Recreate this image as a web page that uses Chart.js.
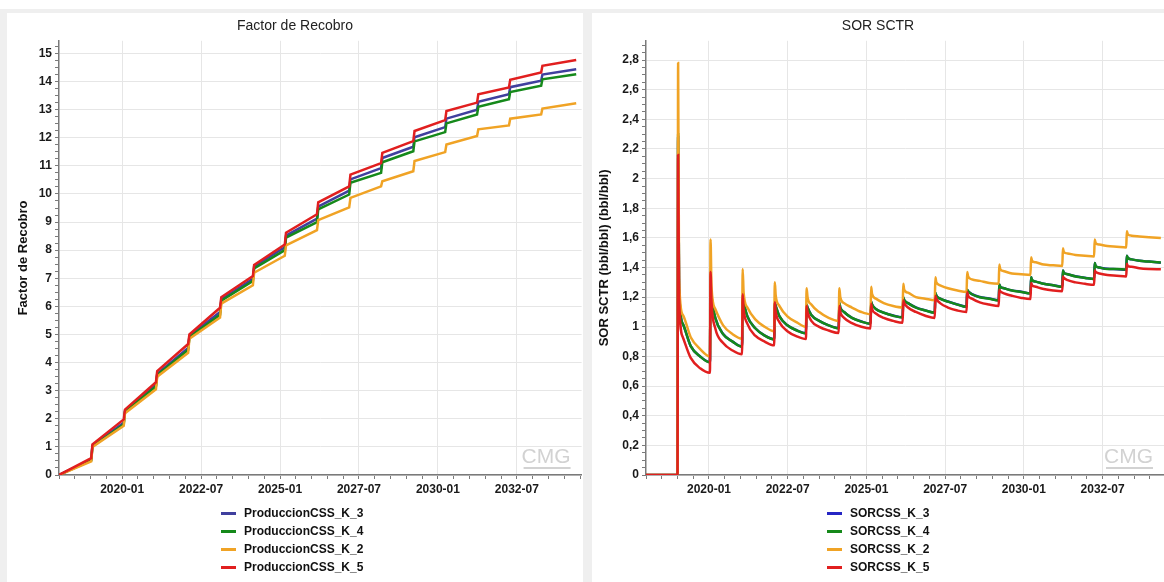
<!DOCTYPE html>
<html lang="es">
<head>
  <meta charset="UTF-8" />
  <title>Factor de Recobro / SOR SCTR</title>
  <script src="https://cdn.jsdelivr.net/npm/chart.js"></script>
  <style>
    body {
      margin: 0;
      width: 1164px;
      height: 582px;
      overflow: hidden;
      background: #fff;
      position: relative;
      font-family: "Liberation Sans", Arial, sans-serif;
    }
    .frame {
      position: absolute;
      left: 0; top: 9px;
      width: 1164px; height: 573px;
      background: #efefef;
    }
    .panel {
      position: absolute;
      top: 13px;
      height: 569px;
      background: #fff;
    }
    #panelLeft { left: 7px; width: 576px; }
    #panelRight { left: 592px; width: 572px; }
    .panel canvas { position: absolute; left: 0; top: 0; }
    .legend {
      position: absolute;
      top: 491px;
    }
    #legendLeft { left: 214px; }
    #legendRight { left: 235px; }
    .legend-item {
      height: 18px;
      line-height: 18px;
      font-size: 12px;
      font-weight: bold;
      color: #111;
      white-space: nowrap;
    }
    .swatch {
      display: inline-block;
      width: 15px;
      height: 3px;
      margin-right: 8px;
      vertical-align: middle;
    }
  </style>
</head>
<body>
  <div class="frame"></div>
  <div class="panel" id="panelLeft">
    <canvas id="frChart" width="576" height="569"></canvas>
    <div class="legend" id="legendLeft"></div>
  </div>
  <div class="panel" id="panelRight">
    <canvas id="sorChart" width="572" height="569"></canvas>
    <div class="legend" id="legendRight"></div>
  </div>

  <script>
    // eje x en años decimales (2020.5 = 2020-07)
    const xMajorTicks = [2020, 2022.5, 2025, 2027.5, 2030, 2032.5];
    const xTickLabels = ['2020-01', '2022-07', '2025-01', '2027-07', '2030-01', '2032-07'];

    const frYTicks = [0, 1, 2, 3, 4, 5, 6, 7, 8, 9, 10, 11, 12, 13, 14, 15];
    const frYLabels = ['0', '1', '2', '3', '4', '5', '6', '7', '8', '9', '10', '11', '12', '13', '14', '15'];
    const sorYTicks = [0, 0.2, 0.4, 0.6, 0.8, 1, 1.2, 1.4, 1.6, 1.8, 2, 2.2, 2.4, 2.6, 2.8];
    const sorYLabels = ['0', '0,2', '0,4', '0,6', '0,8', '1', '1,2', '1,4', '1,6', '1,8', '2', '2,2', '2,4', '2,6', '2,8'];

    const frNames = ['ProduccionCSS_K_3', 'ProduccionCSS_K_4', 'ProduccionCSS_K_2', 'ProduccionCSS_K_5'];
    const sorNames = ['SORCSS_K_3', 'SORCSS_K_4', 'SORCSS_K_2', 'SORCSS_K_5'];

    // Factor de Recobro: antes / después de cada ciclo
    const frDates = [2018.00,
      2019.02, 2019.06, 2020.05, 2020.09, 2021.07, 2021.11, 2022.09, 2022.13,
      2023.10, 2023.14, 2024.14, 2024.18, 2025.15, 2025.19, 2026.17, 2026.21,
      2027.19, 2027.23, 2028.20, 2028.24, 2029.22, 2029.26, 2030.23, 2030.27,
      2031.24, 2031.28, 2032.25, 2032.29, 2033.27, 2033.31,
      2034.38];
    const frK3 = [0,
      0.55, 1.05, 1.86, 2.28, 3.20, 3.60, 4.52, 4.95,
      5.80, 6.25, 6.98, 7.42, 8.10, 8.52, 9.12, 9.55,
      10.12, 10.52, 10.92, 11.28, 11.68, 12.02, 12.38, 12.68,
      13.00, 13.28, 13.55, 13.80, 14.03, 14.25,
      14.44];
    const frK4 = [0,
      0.52, 1.02, 1.80, 2.25, 3.15, 3.55, 4.45, 4.90,
      5.70, 6.20, 6.90, 7.35, 8.00, 8.45, 9.00, 9.45,
      9.98, 10.40, 10.75, 11.13, 11.52, 11.87, 12.20, 12.51,
      12.83, 13.10, 13.37, 13.63, 13.85, 14.08,
      14.26];
    const frK2 = [0,
      0.48, 1.00, 1.75, 2.20, 3.05, 3.50, 4.35, 4.85,
      5.60, 6.10, 6.75, 7.20, 7.80, 8.17, 8.71, 9.07,
      9.52, 9.86, 10.27, 10.45, 10.81, 11.17, 11.49, 11.76,
      12.06, 12.30, 12.44, 12.68, 12.83, 13.04,
      13.23];
    const frK5 = [0,
      0.60, 1.09, 1.98, 2.33, 3.30, 3.70, 4.66, 5.00,
      5.95, 6.33, 7.08, 7.47, 8.20, 8.62, 9.28, 9.70,
      10.27, 10.69, 11.10, 11.46, 11.88, 12.24, 12.63, 12.95,
      13.25, 13.55, 13.79, 14.06, 14.32, 14.56,
      14.77];

    // SOR SCTR: pico y caída de cada ciclo
    const sorDates = [2018.00, 2019.00,
      2019.02, 2019.05, 2019.17, 2019.42, 2019.72, 2020.03,
      2020.05, 2020.08, 2020.20, 2020.45, 2020.75, 2021.05,
      2021.07, 2021.10, 2021.22, 2021.47, 2021.77, 2022.07,
      2022.09, 2022.12, 2022.24, 2022.49, 2022.79, 2023.08,
      2023.10, 2023.13, 2023.25, 2023.50, 2023.80, 2024.12,
      2024.14, 2024.17, 2024.29, 2024.54, 2024.84, 2025.13,
      2025.15, 2025.18, 2025.30, 2025.55, 2025.85, 2026.15,
      2026.17, 2026.20, 2026.32, 2026.57, 2026.87, 2027.17,
      2027.19, 2027.22, 2027.34, 2027.59, 2027.89, 2028.18,
      2028.20, 2028.23, 2028.35, 2028.60, 2028.90, 2029.20,
      2029.22, 2029.25, 2029.37, 2029.62, 2029.92, 2030.21,
      2030.23, 2030.26, 2030.38, 2030.63, 2030.93, 2031.22,
      2031.24, 2031.27, 2031.39, 2031.64, 2031.94, 2032.23,
      2032.25, 2032.28, 2032.40, 2032.65, 2032.95, 2033.25,
      2033.27, 2033.30, 2033.42, 2033.67, 2033.97, 2034.35];
    const sorK3 = [0, 0,
      2.28, 1.26, 1.02, 0.87, 0.80, 0.761,
      1.25, 1.20, 1.06, 0.951, 0.90, 0.866,
      1.21, 1.17, 1.07, 0.99, 0.941, 0.916,
      1.16, 1.14, 1.07, 1.01, 0.976, 0.956,
      1.15, 1.13, 1.08, 1.04, 1.01, 0.991,
      1.16, 1.13, 1.10, 1.06, 1.036, 1.021,
      1.17, 1.15, 1.12, 1.096, 1.076, 1.064,
      1.20, 1.18, 1.16, 1.131, 1.111, 1.096,
      1.23, 1.21, 1.19, 1.171, 1.151, 1.136,
      1.25, 1.24, 1.22, 1.201, 1.191, 1.179,
      1.285, 1.27, 1.26, 1.246, 1.236, 1.226,
      1.335, 1.315, 1.305, 1.291, 1.281, 1.271,
      1.38, 1.365, 1.355, 1.341, 1.331, 1.323,
      1.43, 1.41, 1.40, 1.391, 1.389, 1.385,
      1.48, 1.465, 1.455, 1.445, 1.44, 1.433];
    const sorK4 = [0, 0,
      2.30, 1.26, 1.02, 0.87, 0.80, 0.76,
      1.25, 1.20, 1.06, 0.95, 0.90, 0.865,
      1.21, 1.17, 1.07, 0.99, 0.94, 0.915,
      1.16, 1.14, 1.07, 1.01, 0.975, 0.955,
      1.15, 1.13, 1.08, 1.04, 1.01, 0.99,
      1.16, 1.13, 1.10, 1.06, 1.035, 1.02,
      1.17, 1.15, 1.12, 1.095, 1.075, 1.063,
      1.20, 1.18, 1.16, 1.13, 1.11, 1.095,
      1.23, 1.21, 1.19, 1.17, 1.15, 1.135,
      1.25, 1.24, 1.22, 1.20, 1.19, 1.178,
      1.285, 1.27, 1.26, 1.245, 1.235, 1.225,
      1.335, 1.315, 1.305, 1.29, 1.28, 1.27,
      1.38, 1.365, 1.355, 1.34, 1.33, 1.322,
      1.43, 1.41, 1.40, 1.39, 1.39, 1.386,
      1.48, 1.465, 1.455, 1.445, 1.44, 1.434];
    const sorK2 = [0, 0,
      2.78, 1.32, 1.08, 0.93, 0.85, 0.80,
      1.59, 1.27, 1.12, 1.01, 0.95, 0.92,
      1.39, 1.23, 1.13, 1.05, 1.00, 0.97,
      1.30, 1.21, 1.14, 1.07, 1.03, 1.00,
      1.26, 1.20, 1.15, 1.10, 1.06, 1.04,
      1.26, 1.20, 1.16, 1.13, 1.10, 1.085,
      1.27, 1.22, 1.19, 1.16, 1.14, 1.13,
      1.29, 1.25, 1.23, 1.20, 1.19, 1.18,
      1.335, 1.30, 1.28, 1.26, 1.245, 1.235,
      1.37, 1.34, 1.32, 1.31, 1.295, 1.29,
      1.42, 1.39, 1.375, 1.36, 1.355, 1.35,
      1.47, 1.445, 1.435, 1.42, 1.415, 1.41,
      1.53, 1.505, 1.495, 1.485, 1.48, 1.475,
      1.59, 1.565, 1.555, 1.545, 1.54, 1.535,
      1.645, 1.625, 1.615, 1.61, 1.605, 1.60];
    const sorK5 = [0, 0,
      2.16, 1.20, 0.93, 0.79, 0.72, 0.69,
      1.37, 1.17, 0.99, 0.89, 0.84, 0.815,
      1.22, 1.12, 1.02, 0.94, 0.90, 0.875,
      1.165, 1.10, 1.03, 0.97, 0.935, 0.917,
      1.14, 1.10, 1.04, 1.00, 0.975, 0.958,
      1.14, 1.10, 1.06, 1.025, 1.00, 0.989,
      1.155, 1.12, 1.09, 1.06, 1.04, 1.027,
      1.18, 1.16, 1.13, 1.10, 1.075, 1.06,
      1.21, 1.19, 1.16, 1.13, 1.11, 1.10,
      1.235, 1.21, 1.19, 1.165, 1.15, 1.14,
      1.25, 1.24, 1.225, 1.21, 1.195, 1.187,
      1.295, 1.28, 1.27, 1.255, 1.245, 1.24,
      1.34, 1.33, 1.315, 1.30, 1.29, 1.283,
      1.38, 1.37, 1.36, 1.35, 1.345, 1.34,
      1.425, 1.41, 1.405, 1.395, 1.39, 1.388];

    const FONT = '"Liberation Sans", Arial, sans-serif';
    const frColors = ['#40409e', '#15891a', '#f0a325', '#e11f1f'];
    const sorColors = ['#2626c4', '#15891a', '#f0a325', '#e11f1f'];
    const drawOrder = [4, 3, 2, 1]; // rojo arriba

    // marcas mayores + menores (las menores sin texto ni grilla)
    function buildTicks(majors, step, min, max) {
      const out = [];
      const n = Math.floor((max - min) / step + 1e-6);
      for (let i = 0; i <= n; i++) {
        const v = +(min + i * step).toFixed(4);
        out.push({ value: v, major: majors.some(m => Math.abs(m - v) < 1e-6) });
      }
      return out;
    }

    function labelFor(majors, labels) {
      return (value, i, ticks) => {
        if (!ticks[i].major) return '';
        const k = majors.findIndex(m => Math.abs(m - ticks[i].value) < 1e-6);
        return labels[k];
      };
    }

    const gridColor = ctx => (ctx.tick && ctx.tick.major) ? '#e6e6e6' : 'rgba(0,0,0,0)';

    const watermark = {
      id: 'cmgMark',
      beforeDatasetsDraw(chart) {
        const { ctx, chartArea: a } = chart;
        ctx.save();
        ctx.fillStyle = '#d2d2d2';
        ctx.font = '21px ' + FONT;
        ctx.textAlign = 'right';
        ctx.textBaseline = 'alphabetic';
        ctx.fillText('CMG', a.right - 11, a.bottom - 12);
        ctx.strokeStyle = '#d2d2d2';
        ctx.lineWidth = 2;
        ctx.beginPath();
        ctx.moveTo(a.right - 58, a.bottom - 7);
        ctx.lineTo(a.right - 11, a.bottom - 7);
        ctx.stroke();
        ctx.restore();
      }
    };

    function makeChart(id, cfg) {
      return new Chart(document.getElementById(id), {
        type: 'line',
        data: {
          datasets: cfg.series.map((ys, i) => ({
            label: cfg.names[i],
            data: cfg.dates.map((x, j) => ({ x: x, y: ys[j] })),
            borderColor: cfg.colors[i],
            backgroundColor: cfg.colors[i],
            borderWidth: 2.5,
            pointRadius: 0,
            fill: false,
            order: drawOrder[i],
            cubicInterpolationMode: cfg.smooth ? 'monotone' : 'default',
            tension: 0
          }))
        },
        options: {
          responsive: false,
          animation: false,
          events: [],
          layout: { padding: { left: 0, right: 0, top: 0, bottom: 81 } },
          plugins: {
            legend: { display: false },
            tooltip: { enabled: false },
            title: {
              display: true,
              text: cfg.title,
              color: '#222',
              font: { family: FONT, size: 14, weight: 'normal' },
              padding: { top: 5, bottom: 6 }
            }
          },
          scales: {
            x: {
              type: 'linear',
              min: 2018,
              max: cfg.xMax,
              afterBuildTicks: s => { s.ticks = buildTicks(xMajorTicks, 0.5, 2018, cfg.xMax); },
              afterFit: s => { s.height = 26; },
              ticks: {
                autoSkip: false,
                maxRotation: 0,
                padding: 3,
                color: '#1a1a1a',
                font: { family: FONT, size: 12, weight: 'bold' },
                callback: labelFor(xMajorTicks, xTickLabels)
              },
              grid: { color: gridColor, tickColor: '#7a7a7a', tickLength: 4, lineWidth: 1 },
              border: { color: '#7a7a7a', width: 1.5 }
            },
            y: {
              type: 'linear',
              min: 0,
              max: cfg.yMax,
              afterBuildTicks: s => { s.ticks = buildTicks(cfg.yTicks, cfg.yMinor, 0, cfg.yMax); },
              afterFit: s => { s.width = cfg.yWidth; },
              ticks: {
                autoSkip: false,
                padding: 3,
                color: '#1a1a1a',
                font: { family: FONT, size: 12, weight: 'bold' },
                callback: labelFor(cfg.yTicks, cfg.yLabels)
              },
              grid: { color: gridColor, tickColor: '#7a7a7a', tickLength: 4, lineWidth: 1 },
              border: { color: '#7a7a7a', width: 1.5 },
              title: {
                display: true,
                text: cfg.yTitle,
                color: '#111',
                font: { family: FONT, size: 13, weight: 'bold' },
                padding: { top: cfg.yTitlePad, bottom: 0 }
              }
            }
          }
        },
        plugins: [watermark]
      });
    }

    function buildLegend(id, names, colors) {
      const box = document.getElementById(id);
      names.forEach((name, i) => {
        const row = document.createElement('div');
        row.className = 'legend-item';
        row.innerHTML = '<span class="swatch" style="background:' + colors[i] + '"></span>' + name;
        box.appendChild(row);
      });
    }

    makeChart('frChart', {
      title: 'Factor de Recobro',
      yTitle: 'Factor de Recobro',
      names: frNames,
      colors: frColors,
      dates: frDates,
      series: [frK3, frK4, frK2, frK5],
      smooth: false,
      xMax: 2034.55,
      yMax: 15.45,
      yTicks: frYTicks,
      yLabels: frYLabels,
      yMinor: 0.25,
      yWidth: 52,
      yTitlePad: 9
    });

    makeChart('sorChart', {
      title: 'SOR SCTR',
      yTitle: 'SOR SCTR (bbl/bbl) (bbl/bbl)',
      names: sorNames,
      colors: sorColors,
      dates: sorDates,
      series: [sorK3, sorK4, sorK2, sorK5],
      smooth: true,
      xMax: 2034.45,
      yMax: 2.93,
      yTicks: sorYTicks,
      yLabels: sorYLabels,
      yMinor: 0.05,
      yWidth: 54,
      yTitlePad: 5
    });

    buildLegend('legendLeft', frNames, frColors);
    buildLegend('legendRight', sorNames, sorColors);
  </script>
</body>
</html>
